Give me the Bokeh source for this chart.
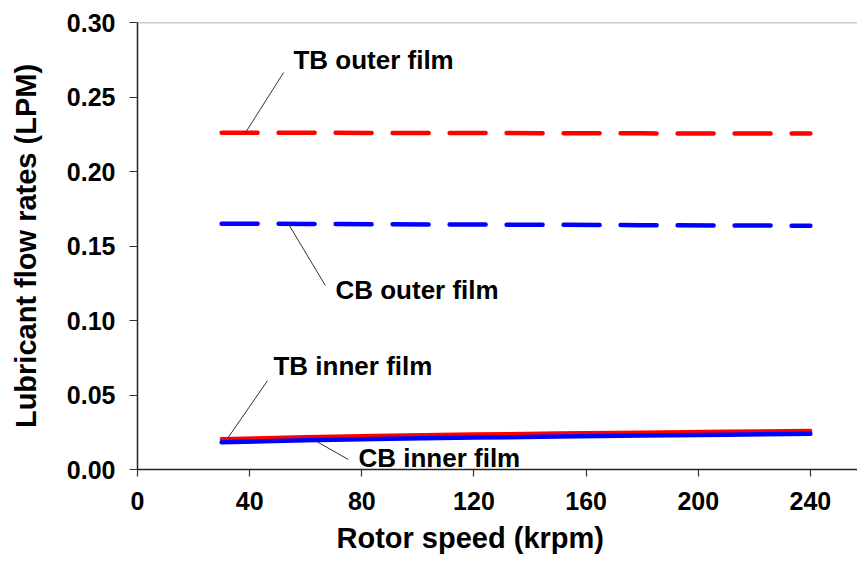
from bokeh.plotting import figure
from bokeh.models import Range1d, FixedTicker, PrintfTickFormatter, Label, Span, ColumnDataSource, Title
from bokeh.embed import file_html
from bokeh.resources import INLINE

# Rotor speed (krpm)
speed = [30, 60, 90, 120, 150, 180, 210, 240]

# Lubricant flow rates (LPM)
tb_outer = [0.2260, 0.2260, 0.2259, 0.2258, 0.2257, 0.2256, 0.2255, 0.2255]
cb_outer = [0.1650, 0.1648, 0.1646, 0.1644, 0.1642, 0.1640, 0.1638, 0.1636]
tb_inner = [0.0205, 0.0218, 0.0228, 0.0236, 0.0243, 0.0249, 0.0255, 0.0260]
cb_inner = [0.0183, 0.0196, 0.0206, 0.0214, 0.0221, 0.0228, 0.0234, 0.0240]

x_ticks = [0, 40, 80, 120, 160, 200, 240]
y_ticks = [0.00, 0.05, 0.10, 0.15, 0.20, 0.25, 0.30]

# Callout labels: text, text anchor (x, baseline y), leader line (from, to)
callouts = [
    ("TB outer film", 55.6, 0.2685, (38.5, 0.2260), (52.1, 0.2664)),
    ("CB outer film", 70.6, 0.1141, (53.9, 0.1646), (67.0, 0.1235)),
    ("TB inner film", 48.5, 0.0631, (32.1, 0.0208), (46.4, 0.0597)),
    ("CB inner film", 78.8, 0.0020, (63.5, 0.0192), (75.2, 0.0067)),
]

FONT = "Liberation Sans"

p = figure(width=857, height=561, output_backend="svg", toolbar_location=None,
           x_range=Range1d(0, 256.8), y_range=Range1d(0, 0.30),
           min_border_left=137, min_border_right=0,
           min_border_top=22, min_border_bottom=92)
p.outline_line_color = None
p.grid.visible = False
p.background_fill_color = "white"
p.border_fill_color = "white"

# Thin grey frame line along the top
p.add_layout(Span(location=0.30, dimension="width", line_color="#9a9a9a", line_width=1.5))

# Outer films: dashed
p.line(speed, tb_outer, line_color="#ff0000", line_width=4.5, line_dash="36 21", line_cap="round")
p.line(speed, cb_outer, line_color="#0000ff", line_width=4.5, line_dash="36 21", line_cap="round")
# Inner films: solid
p.line(speed, tb_inner, line_color="#ff0000", line_width=4, line_cap="round")
p.line(speed, cb_inner, line_color="#0000ff", line_width=4.5, line_cap="round")

# Leader lines and callout texts
lead = ColumnDataSource(dict(
    x0=[c[3][0] for c in callouts], y0=[c[3][1] for c in callouts],
    x1=[c[4][0] for c in callouts], y1=[c[4][1] for c in callouts]))
p.segment(x0="x0", y0="y0", x1="x1", y1="y1", source=lead, line_color="#333333", line_width=1)
for text, tx, ty, _, _ in callouts:
    p.add_layout(Label(x=tx, y=ty, y_offset=9, text=text, text_font=FONT, text_font_style="bold",
                       text_font_size="26px", text_color="black", text_baseline="alphabetic",
                       text_align="left"))

for ax in (p.xaxis[0], p.yaxis[0]):
    ax.axis_line_color = "#222222"
    ax.axis_line_width = 1.5
    ax.major_tick_line_color = "#333333"
    ax.major_tick_line_width = 1.2
    ax.major_tick_in = 0
    ax.minor_tick_line_color = None
    ax.major_label_text_font = FONT
    ax.major_label_text_font_style = "bold"
    ax.major_label_text_font_size = "25px"
    ax.major_label_text_color = "black"
    ax.axis_label_text_font = FONT
    ax.axis_label_text_font_style = "bold"
    ax.axis_label_text_font_size = "29px"
    ax.axis_label_text_color = "black"

p.xaxis.ticker = FixedTicker(ticks=x_ticks)
p.yaxis.ticker = FixedTicker(ticks=y_ticks)
p.yaxis.formatter = PrintfTickFormatter(format="%.2f")
p.xaxis.major_tick_out = 7
p.yaxis.major_tick_out = 8
p.xaxis.major_label_standoff = 15
p.yaxis.major_label_standoff = 14
p.yaxis.axis_label = "Lubricant flow rates (LPM)"
p.yaxis.axis_label_standoff = 22

# x-axis title, set slightly left of the frame centre
p.add_layout(Title(text="Rotor speed (krpm)", align="left", offset=199, standoff=14,
                   text_font=FONT, text_font_style="bold", text_font_size="29px",
                   text_line_height=0.8, text_color="black"), "below")

open("out.html", "w").write(file_html(p, INLINE))
